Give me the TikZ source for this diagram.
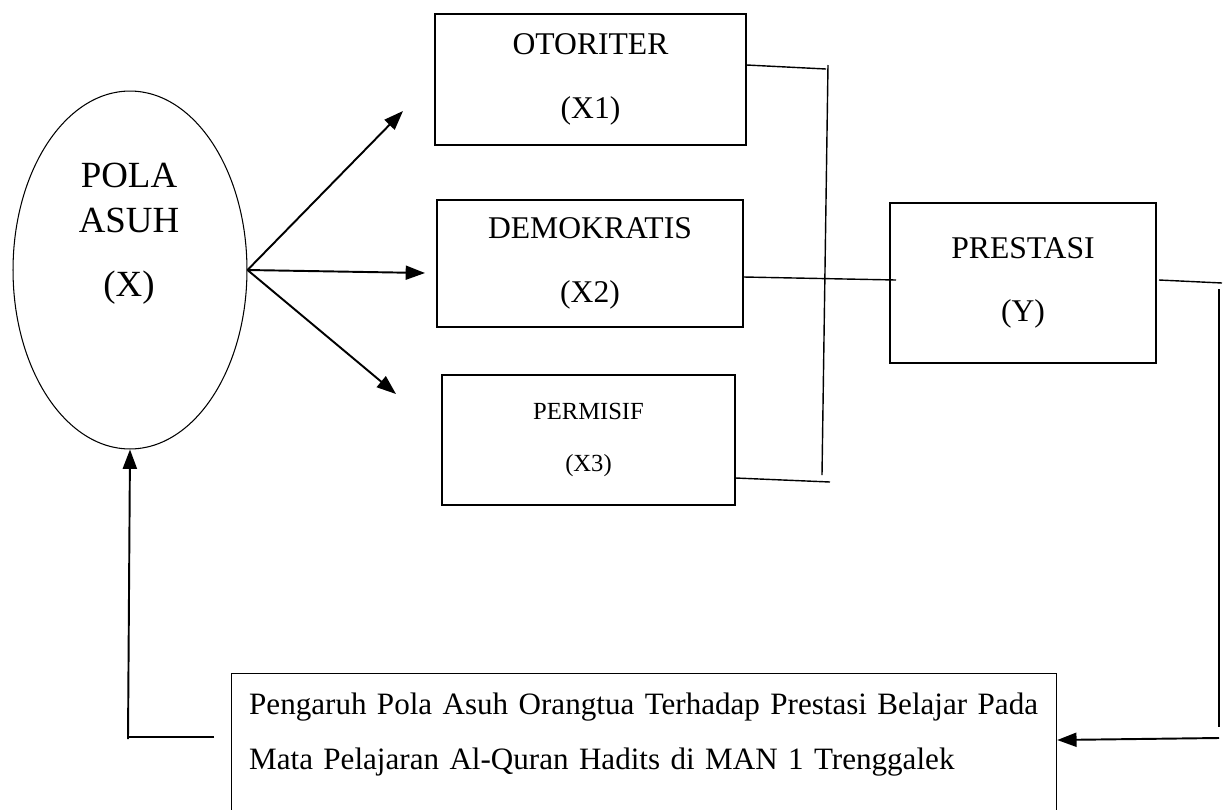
\documentclass[tikz,border=0pt]{standalone}
\usepackage{fontspec}
\setmainfont{Liberation Serif}
\usetikzlibrary{shapes.geometric,arrows.meta}

\begin{document}
\begin{tikzpicture}[x=0.02cm, y=-0.02cm,
            kotak/.style={draw, line width=.7pt, align=center, inner sep=0pt,
                font=\fontsize{18}{36}\selectfont},
            panah/.style={-{Triangle[length=11pt, width=8pt]}, line width=1.1pt},
            garis/.style={line width=.8pt},
        ]
            \clip (0, 0) rectangle (1225, 809);
            \useasboundingbox (0, 0) rectangle (1225, 809);
            % pola asuh
            \node[draw, ellipse, line width=.6pt, minimum width=4.68cm,
                minimum height=7.16cm, inner sep=0pt] (polaasuh) at (130, 270) {};
            \node[align=center, font=\fontsize{21}{25.6}\selectfont] (polateks)
                at (129, 234) {POLA\\ASUH\\[11pt](X)};
            % tiga gaya
            \node[kotak, minimum width=6.22cm, minimum height=2.62cm] (otoriter)
                at (590.5, 79.5) {OTORITER\\(X1)};
            \node[kotak, minimum width=6.12cm, minimum height=2.54cm] (demokratis)
                at (590, 263.5) {DEMOKRATIS\\(X2)};
            \node[kotak, minimum width=5.86cm, minimum height=2.6cm,
                font=\fontsize{14}{30}\selectfont] (permisif)
                at (588.5, 440) {PERMISIF\\(X3)};
            \node[kotak, minimum width=5.32cm, minimum height=3.2cm] (prestasi)
                at (1023, 283) {PRESTASI\\(Y)};
            % judul
            \node[draw, line width=.7pt, anchor=north west, align=left,
                text width=15.8cm, minimum height=3.6cm,
                inner xsep=10pt, inner ysep=8pt, text depth=2.4cm,
                font=\fontsize{17.7}{31.3}\selectfont] (judul) at (231, 673)
                {Pengaruh Pola Asuh Orangtua Terhadap Prestasi Belajar Pada\\
                Mata Pelajaran Al-Quran Hadits di MAN 1 Trenggalek};
            % panah dari pola asuh
            \coordinate (ujung1) at (403, 111);
            \coordinate (ujung2) at (425, 273);
            \coordinate (ujung3) at (396, 394);
            \draw[panah] (polaasuh.east) -- (ujung1);
            \draw[panah] (polaasuh.east) -- (ujung2);
            \draw[panah] (polaasuh.east) -- (ujung3);
            % garis penghubung
            \coordinate (sambung1) at (826, 69);
            \coordinate (atas) at (828, 65);
            \coordinate (bawah) at (822, 475);
            \coordinate (sambung3) at (830, 482);
            \coordinate (masuk) at (896, 280);
            \draw[garis] (otoriter.east |- 0, 65) -- (sambung1);
            \draw[garis] (atas) -- (bawah);
            \draw[garis] (demokratis.east |- 0, 277) -- (masuk);
            \draw[garis] (permisif.east |- 0, 478) -- (sambung3);
            \coordinate (kanan1) at (1159, 280);
            \coordinate (kanan2) at (1222, 283);
            \coordinate (kanan3) at (1219, 289);
            \coordinate (kanan4) at (1219, 738);
            \draw[garis] (kanan1) -- (kanan2);
            \draw[garis] (kanan3) -- (1219, 727);
            \draw[panah] (kanan4) -- (judul.east |- 0, 740);
            \coordinate (kiri1) at (214, 737);
            \coordinate (kiri2) at (128, 737);
            \draw[garis] (kiri1) -- (kiri2);
            \draw[panah] (128, 739) -- (polaasuh.south);
        \end{tikzpicture}
\end{document}
